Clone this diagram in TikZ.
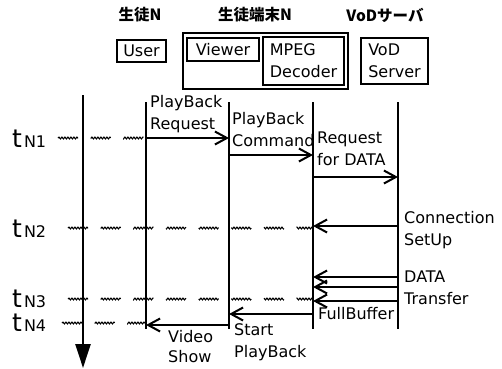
\documentclass[tikz,border=0pt]{standalone}
\usepackage{fontspec}
\setmainfont{DejaVu Sans}
\newfontfamily\jpfont{Noto Sans CJK JP}
\usepackage{tikz}
\usetikzlibrary{arrows.meta,positioning,fit,decorations.pathmorphing}

\begin{document}
\begin{tikzpicture}[x=1pt,y=-1pt,font=\fontsize{16}{22}\selectfont,>={Straight Barb[length=12pt,width=13pt]}]
  \tikzset{unit/.style={draw,line width=2pt,inner sep=2pt,anchor=north west,align=left},
    actor/.style={font=\jpfont\bfseries\fontsize{15.5}{15.5}\selectfont},
    life/.style={line width=2.6pt},
    msg/.style={->,line width=2pt},
    note/.style={anchor=north west,align=left,inner sep=0pt},
    tlabel/.style={anchor=west,inner sep=0pt},
    tick/.style={line width=1.1pt,decorate,decoration={snake,amplitude=0.9pt,segment length=3pt},dash pattern=on 31pt off 20pt}}
  \useasboundingbox (0,0) rectangle (502,368);
  \node[actor] (student) at (140,15) {生徒N};
  \node[actor] (terminal) at (255,15) {生徒端末N};
  \node[actor] (server) at (385,15) {VoDサーバ};
  \node[unit,minimum width=49pt,minimum height=22pt] (userbox) at (116,39) {User};
  \node[unit,minimum width=72pt,minimum height=23pt] (viewbox) at (186,37) {Viewer};
  \node[unit,minimum width=81pt,minimum height=48pt] (mpegbox) at (262,36) {MPEG\\Decoder};
  \node[draw,line width=2.6pt,inner sep=3pt,fit=(viewbox)(mpegbox)] (termbox) {};
  \node[unit,minimum width=67pt,minimum height=46pt] (vodbox) at (360,37) {VoD\\Server};
  \coordinate (axis) at (83,95);
  \coordinate (user) at (146,102);
  \coordinate (viewer) at (229,102);
  \coordinate (mpeg) at (313,102);
  \coordinate (vod) at (398,102);
  \coordinate (w1) at (58,138);
  \coordinate (w2) at (68,228);
  \coordinate (w3) at (68,299);
  \coordinate (w4) at (62,323);
  \node[tlabel] (tn1) at (12,139) {{\fontsize{25}{25}\selectfont t}\kern2pt N1};
  \node[tlabel] (tn2) at (12,229) {{\fontsize{25}{25}\selectfont t}\kern2pt N2};
  \node[tlabel] (tn3) at (12,299) {{\fontsize{25}{25}\selectfont t}\kern2pt N3};
  \node[tlabel] (tn4) at (12,323) {{\fontsize{25}{25}\selectfont t}\kern2pt N4};
  \draw[tick] (w1) -- (user |- w1);
  \draw[tick] (w2) -- (mpeg |- w2);
  \draw[tick] (w3) -- (mpeg |- w3);
  \draw[tick] (w4) -- (user |- w4);
  \coordinate (end) at (0,329);
  \draw[life,-{Triangle[length=24pt,width=15pt]}] (axis) -- ++(0,273);
  \foreach \l in {user,viewer,mpeg,vod}
    \draw[life] (\l) -- (\l |- end);
  \coordinate (m1) at (0,138);
  \coordinate (m2) at (0,155);
  \coordinate (m3) at (0,177);
  \coordinate (m4) at (0,226);
  \coordinate (m5) at (0,277);
  \coordinate (m6) at (0,287);
  \coordinate (m7) at (0,301);
  \coordinate (m8) at (0,314);
  \coordinate (m9) at (0,325);
  \foreach \a/\b/\m in {user/viewer/m1,viewer/mpeg/m2,mpeg/vod/m3,vod/mpeg/m4,vod/mpeg/m5,vod/mpeg/m6,vod/mpeg/m7,mpeg/viewer/m8,viewer/user/m9}
    \draw[msg] (\a |- \m) -- (\b |- \m);
  \node[note] (request) at (150,95) {PlayBack\\Request};
  \node[note] (command) at (232,112) {PlayBack\\Command};
  \node[note] (fordata) at (317,132) {Request\\for DATA};
  \node[note] (setup) at (404,211) {Connection\\SetUp};
  \node[note] (transfer) at (404,271) {DATA\\Transfer};
  \node[note] (full) at (318,307) {FullBuffer};
  \node[note] (start) at (234,323) {Start\\PlayBack};
  \node[note,font=\fontsize{16}{20}\selectfont] (show) at (168,330) {Video\\Show};
\end{tikzpicture}
\end{document}
